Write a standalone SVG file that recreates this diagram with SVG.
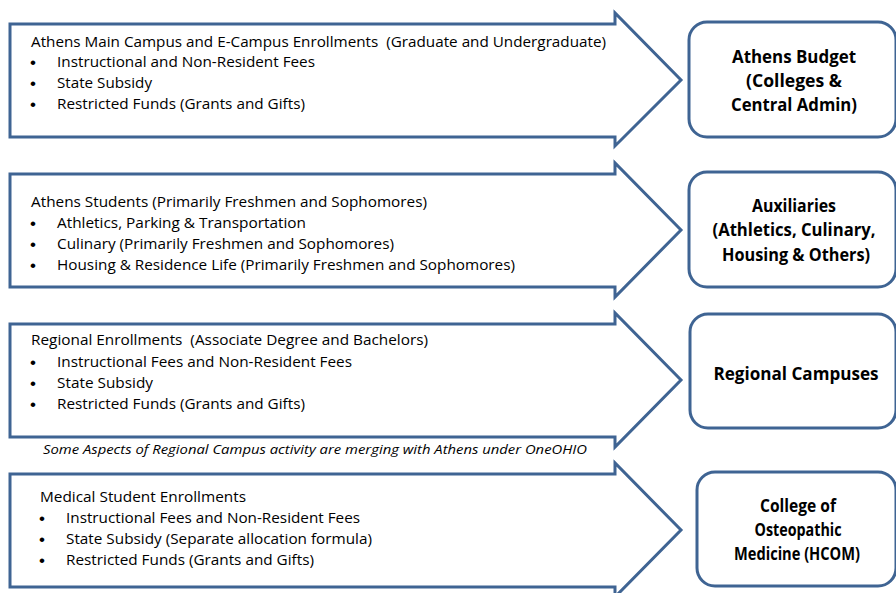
<svg xmlns="http://www.w3.org/2000/svg" width="896" height="593" viewBox="0 0 896 593">
<style>
.arrow{fill:#fff;stroke:#3F6493;stroke-width:3;stroke-linejoin:miter}
.box{fill:#fff;stroke:#3F6493;stroke-width:3}
.t{font-family:"Open Sans","Liberation Sans",sans-serif;font-size:14.5px;fill:#000}
.bu{font-family:"Liberation Sans","DejaVu Sans",sans-serif;font-size:17px;fill:#000;text-anchor:middle}
.it{font-family:"Open Sans","Liberation Sans",sans-serif;font-size:13px;font-style:italic;fill:#000}
.b{font-family:"Open Sans","Liberation Sans",sans-serif;font-size:17.5px;font-weight:bold;fill:#000;text-anchor:middle}
</style>
<rect width="896" height="593" fill="#fff"/>
<g id="connectors"></g>

<g id="arrow-athens">
<path class="arrow" d="M10,24 H615 V13 L681,80 L615,146 V137 H10 Z"/>
<text class="t" x="31" y="47" textLength="575" lengthAdjust="spacingAndGlyphs">Athens Main Campus and E-Campus Enrollments &#160;(Graduate and Undergraduate)</text>
<text class="bu" x="33" y="68">•</text><text class="t" x="57" y="67" textLength="258" lengthAdjust="spacingAndGlyphs">Instructional and Non-Resident Fees</text>
<text class="bu" x="33" y="89">•</text><text class="t" x="57" y="88" textLength="95" lengthAdjust="spacingAndGlyphs">State Subsidy</text>
<text class="bu" x="33" y="110">•</text><text class="t" x="57" y="109" textLength="248" lengthAdjust="spacingAndGlyphs">Restricted Funds (Grants and Gifts)</text>
</g>

<g id="arrow-auxiliaries">
<path class="arrow" d="M10,174 H615 V163 L681,230 L615,297 V287 H10 Z"/>
<text class="t" x="31" y="207" textLength="396" lengthAdjust="spacingAndGlyphs">Athens Students (Primarily Freshmen and Sophomores)</text>
<text class="bu" x="33" y="229">•</text><text class="t" x="57" y="228" textLength="249" lengthAdjust="spacingAndGlyphs">Athletics, Parking &amp; Transportation</text>
<text class="bu" x="33" y="250">•</text><text class="t" x="57" y="249" textLength="337" lengthAdjust="spacingAndGlyphs">Culinary (Primarily Freshmen and Sophomores)</text>
<text class="bu" x="33" y="271">•</text><text class="t" x="57" y="270" textLength="458" lengthAdjust="spacingAndGlyphs">Housing &amp; Residence Life (Primarily Freshmen and Sophomores)</text>
</g>

<g id="arrow-regional">
<path class="arrow" d="M10,324 H615 V313 L681,380 L615,447 V437 H10 Z"/>
<text class="t" x="31" y="345" textLength="397" lengthAdjust="spacingAndGlyphs">Regional Enrollments &#160;(Associate Degree and Bachelors)</text>
<text class="bu" x="33" y="368">•</text><text class="t" x="57" y="367" textLength="295" lengthAdjust="spacingAndGlyphs">Instructional Fees and Non-Resident Fees</text>
<text class="bu" x="33" y="389">•</text><text class="t" x="57" y="388" textLength="96" lengthAdjust="spacingAndGlyphs">State Subsidy</text>
<text class="bu" x="33" y="410">•</text><text class="t" x="57" y="409" textLength="248" lengthAdjust="spacingAndGlyphs">Restricted Funds (Grants and Gifts)</text>
</g>

<g id="note">
<text class="it" x="43" y="454" textLength="544" lengthAdjust="spacingAndGlyphs">Some Aspects of Regional Campus activity are merging with Athens under OneOHIO</text>
</g>

<g id="arrow-medical">
<path class="arrow" d="M10,474 H615 V463 L681,530 L615,597 V587 H10 Z"/>
<text class="t" x="40" y="502" textLength="206" lengthAdjust="spacingAndGlyphs">Medical Student Enrollments</text>
<text class="bu" x="42" y="524">•</text><text class="t" x="66" y="523" textLength="294" lengthAdjust="spacingAndGlyphs">Instructional Fees and Non-Resident Fees</text>
<text class="bu" x="42" y="545">•</text><text class="t" x="66" y="544" textLength="306" lengthAdjust="spacingAndGlyphs">State Subsidy (Separate allocation formula)</text>
<text class="bu" x="42" y="566">•</text><text class="t" x="66" y="565" textLength="248" lengthAdjust="spacingAndGlyphs">Restricted Funds (Grants and Gifts)</text>
</g>

<g id="box-athens-budget">
<rect class="box" x="689" y="22" width="207" height="115" rx="18"/>
<text class="b" x="794" y="63" textLength="124" lengthAdjust="spacingAndGlyphs">Athens Budget</text>
<text class="b" x="794" y="87" textLength="96" lengthAdjust="spacingAndGlyphs">(Colleges &amp;</text>
<text class="b" x="794" y="111" textLength="126" lengthAdjust="spacingAndGlyphs">Central Admin)</text>
</g>

<g id="box-auxiliaries">
<rect class="box" x="689" y="172" width="207" height="115" rx="18"/>
<text class="b" x="794" y="212" textLength="84" lengthAdjust="spacingAndGlyphs">Auxiliaries</text>
<text class="b" x="794" y="236" textLength="163" lengthAdjust="spacingAndGlyphs">(Athletics, Culinary,</text>
<text class="b" x="796" y="261" textLength="148" lengthAdjust="spacingAndGlyphs">Housing &amp; Others)</text>
</g>

<g id="box-regional">
<rect class="box" x="690" y="314" width="206" height="114" rx="18"/>
<text class="b" x="796" y="380" textLength="165" lengthAdjust="spacingAndGlyphs">Regional Campuses</text>
</g>

<g id="box-hcom">
<rect class="box" x="697" y="472" width="199" height="114" rx="18"/>
<text class="b" x="798" y="512" textLength="76" lengthAdjust="spacingAndGlyphs">College of</text>
<text class="b" x="798" y="536" textLength="87" lengthAdjust="spacingAndGlyphs">Osteopathic</text>
<text class="b" x="797" y="560" textLength="126" lengthAdjust="spacingAndGlyphs">Medicine (HCOM)</text>
</g>
</svg>
